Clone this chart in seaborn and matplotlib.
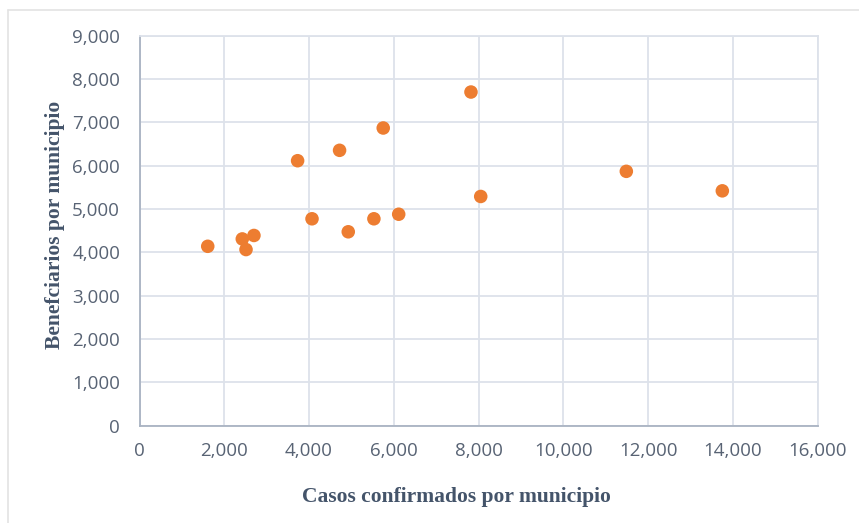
import matplotlib
matplotlib.use("Agg")
import matplotlib.pyplot as plt
import seaborn as sns
import pandas as pd
from matplotlib.ticker import FuncFormatter, MultipleLocator
from matplotlib.lines import Line2D

casos = [1610, 2425, 2513, 2700, 3730, 4070, 4720, 4925, 5530, 5750, 6115, 7820, 8050, 11485, 13750]
beneficiarios = [4140, 4310, 4065, 4390, 6115, 4775, 6355, 4475, 4775, 6870, 4880, 7700, 5290, 5870, 5420]

x_label = "Casos confirmados por municipio"
y_label = "Benefciarios por municipio"

df = pd.DataFrame({"casos": casos, "benef": beneficiarios})

sns.set_theme(style="white")
plt.rcParams['font.family'] = ['Open Sans', 'DejaVu Sans']

fig = plt.figure(figsize=(8.59, 5.23), dpi=100)
ax = fig.add_axes([139.5/859, 1-425.7/523, (817.7-139.5)/859, (425.7-35.7)/523])

sns.scatterplot(data=df, x="casos", y="benef", ax=ax, color="#ED7D31", s=95,
                edgecolor="none", linewidth=0, zorder=3)

ax.set_xlim(0, 16000)
ax.set_ylim(0, 9000)
ax.xaxis.set_major_locator(MultipleLocator(2000))
ax.yaxis.set_major_locator(MultipleLocator(1000))
fmt = FuncFormatter(lambda v, p: f"{int(v):,}")
ax.xaxis.set_major_formatter(fmt)
ax.yaxis.set_major_formatter(fmt)

grid_c = "#DDE2EA"
ax.grid(True, color=grid_c, linewidth=1.3)
ax.set_axisbelow(True)
for side in ["top", "right"]:
    ax.spines[side].set_color(grid_c)
    ax.spines[side].set_linewidth(1.3)
for side in ["left", "bottom"]:
    ax.spines[side].set_color("#A9B3C2")
    ax.spines[side].set_linewidth(1.3)

tick_c = "#586374"
ax.tick_params(axis="both", length=0, labelsize=13.5, labelcolor=tick_c)
ax.tick_params(axis="x", pad=12)
ax.tick_params(axis="y", pad=14)

lab_c = "#44546A"
ax.set_xlabel(x_label, fontfamily="Liberation Serif", fontweight="bold", fontsize=15.5,
              color=lab_c)
ax.set_ylabel(y_label, fontfamily="Liberation Serif", fontweight="bold", fontsize=15.5,
              color=lab_c)
ax.xaxis.set_label_coords(0.4667, -0.157)
ax.yaxis.set_label_coords(-0.110, 0.5146)

# outer chart border
border_c = "#E3E3E3"
fig.add_artist(Line2D([8/859, 8/859], [0, 1-10/523], transform=fig.transFigure, color=border_c, lw=1.2))
fig.add_artist(Line2D([8/859, 1], [1-10/523, 1-10/523], transform=fig.transFigure, color=border_c, lw=1.2))

fig.savefig("out.png", dpi=100)
